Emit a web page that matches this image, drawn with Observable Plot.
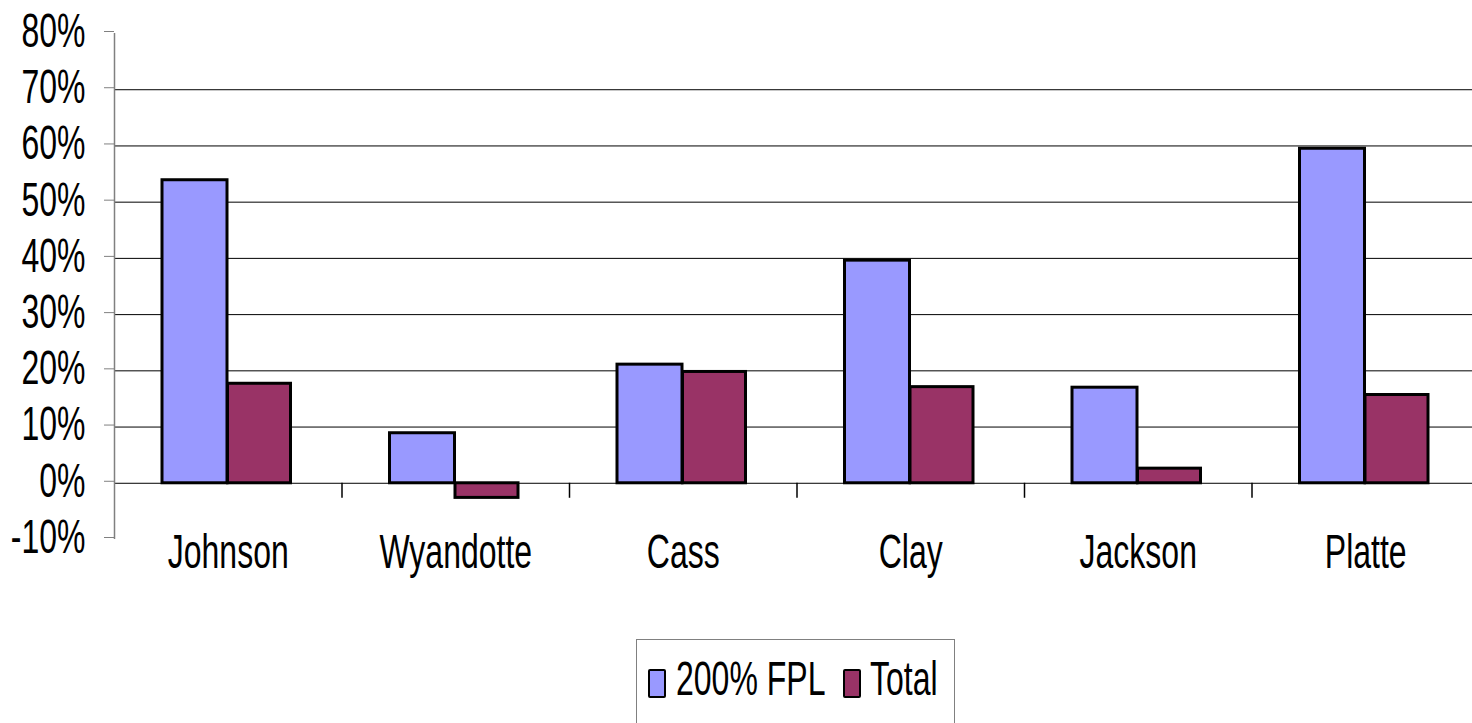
<!DOCTYPE html>
<html><head><meta charset="utf-8">
<script src="https://cdn.jsdelivr.net/npm/d3@7"></script>
<script src="https://cdn.jsdelivr.net/npm/@observablehq/plot@0.6"></script>
<style>
html,body{margin:0;padding:0;background:#fff;overflow:hidden}
#wrap{width:1472px;height:723px;overflow:hidden;background:#fff}
#chart{width:1472px;height:639px;overflow:hidden}
#chart svg{max-width:none !important;display:block}
#legend{position:relative;margin-left:636px;width:319px;height:84px;box-sizing:border-box;
  border:1px solid #808080;border-bottom:none;background:#fff;
  font-family:'Liberation Sans', Arial, sans-serif;font-size:32px;color:#000}
#legend .sw{position:absolute;top:29px;width:18px;height:29px;box-sizing:border-box;border:2.5px solid #000;border-radius:2px}
#legend .lb{position:absolute;top:28px;line-height:32px;white-space:nowrap;transform:scaleY(1.5);transform-origin:0 27px}
</style></head>
<body><div id="wrap"><div id="chart"></div><div id="legend"></div></div>
<script>
const counties = ["Johnson", "Wyandotte", "Cass", "Clay", "Jackson", "Platte"];
const series = ["200% FPL", "Total"];
const fplValues = [53.9, 8.9, 21.1, 39.6, 17.0, 59.5];
const totalValues = [17.7, -2.6, 19.8, 17.1, 2.6, 15.7];
const colors = ["#9999FF", "#993366"];
const yTicks = [-10, 0, 10, 20, 30, 40, 50, 60, 70, 80];
const gridTicks = [0, 10, 20, 30, 40, 50, 60, 70];

const rows = counties.map((c, i) => ({county: c, fpl: fplValues[i], total: totalValues[i]}));
const FONT = "'Liberation Sans', Arial, sans-serif";
const SY = 1.5; // tall, narrow lettering as in the original

const chart = Plot.plot({
  width: 1480,
  height: 639,
  marginTop: 33,
  marginBottom: 100,
  marginLeft: 114,
  marginRight: 1,
  style: {fontFamily: FONT, fontSize: "32px", color: "#000", background: "transparent", maxWidth: "none"},
  x: {domain: counties, paddingInner: 0, paddingOuter: 0, round: false, axis: null, label: null},
  y: {domain: [yTicks[0], yTicks[yTicks.length - 1]], axis: null, label: null},
  marks: [
    Plot.ruleY(gridTicks, {stroke: "#000", strokeWidth: 1}),
    Plot.barY(rows, {x: "county", y: "fpl", fill: colors[0], stroke: "#000", strokeWidth: 3, insetLeft: 48, insetRight: 114.5}),
    Plot.barY(rows, {x: "county", y: "total", fill: colors[1], stroke: "#000", strokeWidth: 3, insetLeft: 113.5, insetRight: 51}),
    Plot.ruleX(counties.slice(0, 1), {x: d => d, y1: yTicks[0], y2: yTicks[yTicks.length - 1], stroke: "#808080", strokeWidth: 1.5, dx: -113.75}),
    Plot.ruleX(counties.slice(1), {x: d => d, y1: 0, y2: 0, insetBottom: -15, stroke: "#000", strokeWidth: 1.5, dx: -113.75}),
    Plot.axisY({ticks: yTicks, tickSize: 10, tickPadding: 19, tickFormat: d => d + "%", stroke: "#808080", fill: "#000", dy: -2, label: null}),
    Plot.axisX({tickSize: 0, tickPadding: -6, fill: "#000", label: null})
  ]
});
chart.style.maxWidth = "none";
document.getElementById("chart").appendChild(chart);

chart.querySelectorAll("text").forEach(t => {
  const tr = t.getAttribute("transform");
  if (tr) {
    t.setAttribute("transform", tr + ` scale(1,${SY})`);
  } else {
    const x = +(t.getAttribute("x") || 0), y = +(t.getAttribute("y") || 0);
    t.setAttribute("transform", `translate(${x},${y}) scale(1,${SY}) translate(${-x},${-y})`);
  }
});

// legend
const lg = d3.select("#legend");
const swLeft = [11, 206], lbLeft = [39, 233];
series.forEach((s, i) => {
  lg.append("div").attr("class", "sw").style("left", swLeft[i] + "px").style("background", colors[i]);
  lg.append("div").attr("class", "lb").style("left", lbLeft[i] + "px").text(s);
});
</script>
</body></html>
